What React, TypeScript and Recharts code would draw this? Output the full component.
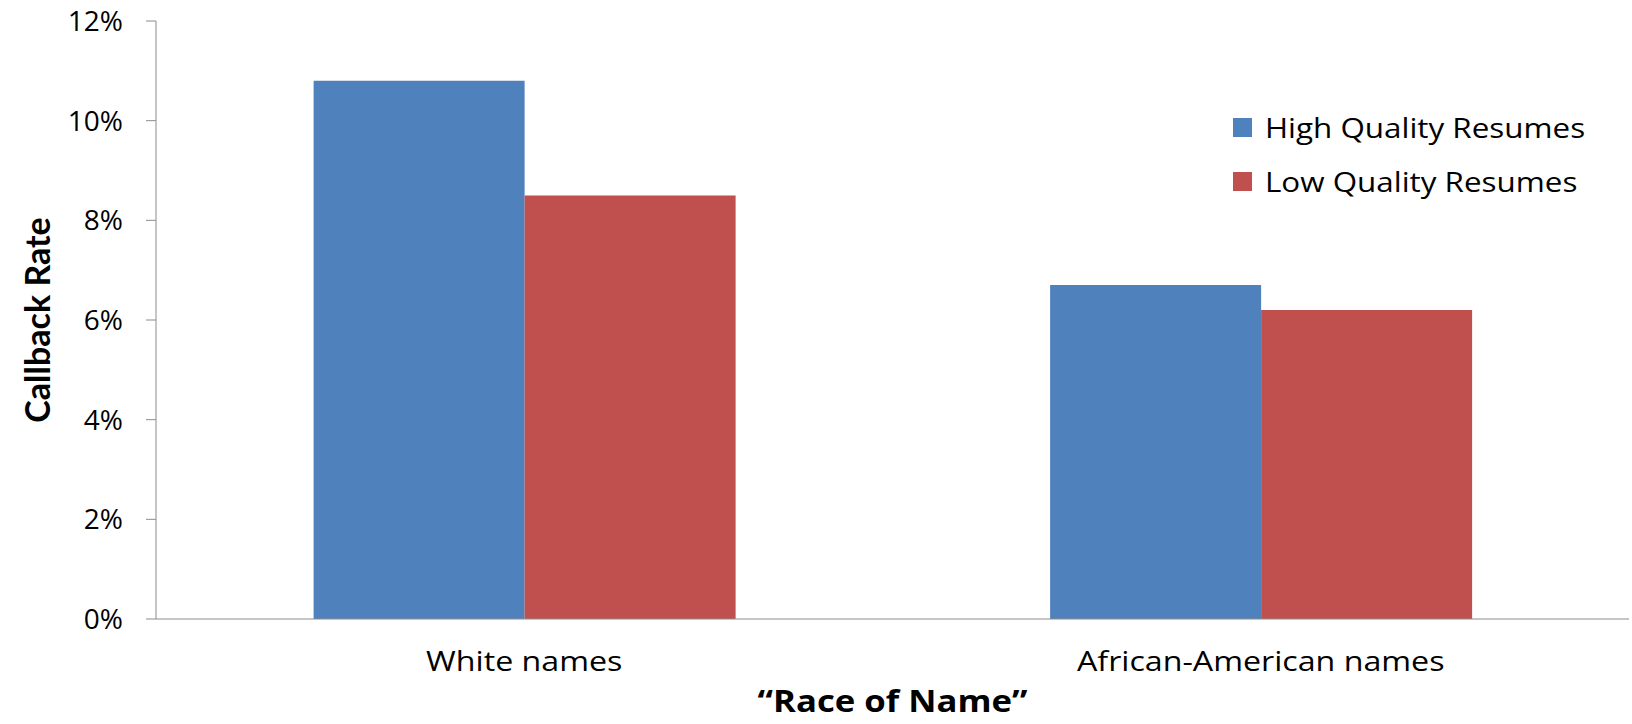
import React from "react"
import { BarChart, Bar, XAxis, YAxis, Legend } from "recharts"

const categories = ["White names", "African-American names"]
const highQuality = [10.8, 6.7]
const lowQuality = [8.5, 6.2]
const yTicks = [0, 2, 4, 6, 8, 10, 12]
const boundaryTicks = [0, 1, 2]

const BLUE = "#4F81BD"
const RED = "#C0504D"
const AXIS = "#8c8c8c"
const FONT = "'Open Sans', Lato, sans-serif"

const data = categories.map((name, i) => ({
  name,
  pos: i + 0.5,
  high: highQuality[i],
  low: lowQuality[i],
}))

// category labels are drawn a little wide, like the original deck font
function CategoryTick({ x, y, payload }: any) {
  return (
    <g transform={`translate(${x}, ${y}) scale(1.15, 1)`}>
      <text x={0} y={0} dy="0.71em" textAnchor="middle" fontFamily={FONT} fontSize={28} fill="#000">
        {payload.value}
      </text>
    </g>
  )
}

function LegendBox({ payload }: any) {
  return (
    <div style={{ fontFamily: FONT, fontSize: 28, color: "#000" }}>
      {(payload || []).map((p: any) => (
        <div key={p.value} style={{ display: "flex", alignItems: "center", height: 54 }}>
          <span style={{ display: "inline-block", width: 19, height: 19, background: p.color, marginRight: 13 }} />
          <span style={{ display: "inline-block", transform: "scaleX(1.12)", transformOrigin: "left center", whiteSpace: "nowrap" }}>
            {p.value}
          </span>
        </div>
      ))}
    </div>
  )
}

function YTitle({ viewBox }: any) {
  const cy = viewBox.y + viewBox.height / 2
  return (
    <text
      x={36}
      y={cy}
      transform={`rotate(-90, 36, ${cy})`}
      textAnchor="middle"
      dominantBaseline="central"
      fontFamily="Lato, sans-serif"
      fontWeight="bold"
      fontSize={34}
      fill="#000"
    >
      Callback Rate
    </text>
  )
}

function XTitle({ viewBox }: any) {
  const cx = viewBox.x + viewBox.width / 2
  return (
    <g transform={`translate(${cx}, 700) scale(1.12, 1)`}>
      <text x={0} y={0} textAnchor="middle" dominantBaseline="central" fontFamily={FONT} fontWeight="bold" fontSize={31} fill="#000">
        “Race of Name”
      </text>
    </g>
  )
}

export default function App() {
  return (
    <div style={{ position: "absolute", left: 0, top: 0, width: 1632, height: 724, background: "#fff" }}>
      <BarChart
        width={1632}
        height={724}
        data={data}
        margin={{ top: 21, right: 3, left: 0, bottom: 0 }}
        barCategoryGap="21.4%"
        barGap={0}
      >
        <XAxis
          xAxisId="bounds"
          type="number"
          dataKey="pos"
          domain={[0, 2]}
          ticks={boundaryTicks}
          tick={false}
          height={0}
          axisLine={false}
          tickSize={9}
          tickLine={{ stroke: AXIS }}
        />
        <XAxis
          xAxisId="cat"
          dataKey="name"
          height={105}
          axisLine={{ stroke: AXIS }}
          tickLine={false}
          tickSize={0}
          tickMargin={32}
          tick={<CategoryTick />}
          label={<XTitle />}
        />
        <YAxis
          width={156}
          domain={[0, 12]}
          ticks={yTicks}
          tickFormatter={(v: number) => `${v}%`}
          axisLine={{ stroke: AXIS }}
          tickLine={{ stroke: AXIS }}
          tickSize={10}
          tickMargin={23}
          tick={{ fontFamily: FONT, fontSize: 28, fill: "#000" }}
          label={<YTitle />}
        />
        {/* centred vertical legend adds no offset, so the plot keeps its full width */}
        <Legend
          layout="vertical"
          verticalAlign="middle"
          align="center"
          content={<LegendBox />}
          wrapperStyle={{ top: 100, left: 1233, width: 399 }}
        />
        <Bar xAxisId="cat" dataKey="high" name="High Quality Resumes" fill={BLUE} isAnimationActive={false} />
        <Bar xAxisId="cat" dataKey="low" name="Low Quality Resumes" fill={RED} isAnimationActive={false} />
      </BarChart>
    </div>
  )
}
